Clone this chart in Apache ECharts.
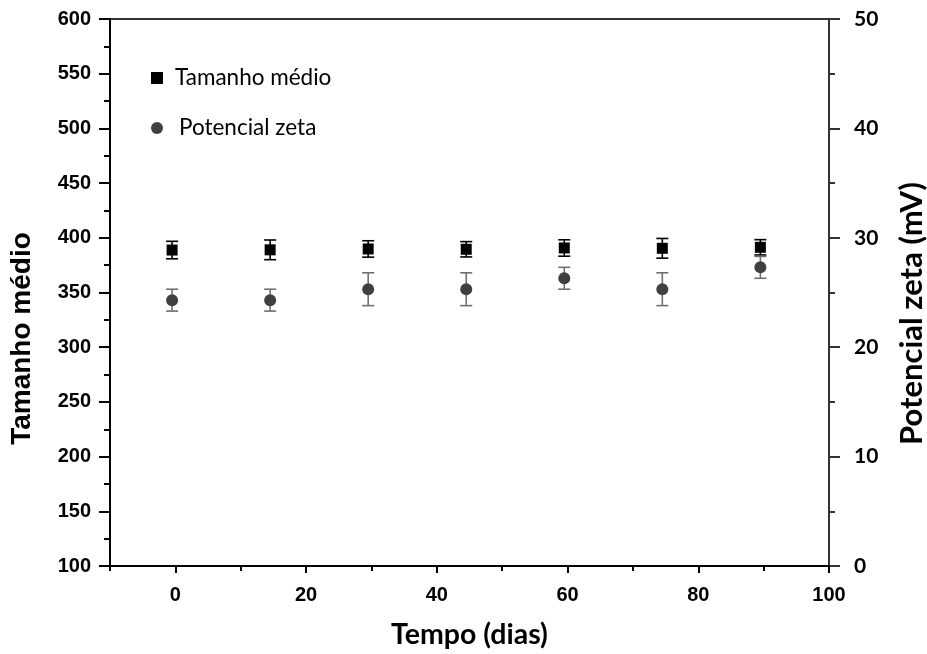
<!DOCTYPE html>
<html>
<head>
<meta charset="utf-8">
<script src="https://cdn.jsdelivr.net/npm/echarts@6/dist/echarts.min.js"></script>
<style>
html,body{margin:0;padding:0;background:#fff;}
#chart{width:927px;height:654px;}
</style>
</head>
<body>
<div id="chart"></div>
<script>
// Data
const days = [-0.5, 14.5, 29.5, 44.5, 59.5, 74.5, 89.5];
const sizeMean = [388.8, 389, 389.8, 389.5, 390.7, 390.4, 391.3];
const sizeErr = [8, 9, 7.5, 7, 7.5, 9, 7];
const zetaMean = [24.3, 24.3, 25.3, 25.3, 26.3, 25.3, 27.3];
const zetaErr = [1, 1, 1.5, 1.5, 1, 1.5, 1];
const xTickLabels = [0, 20, 40, 60, 80, 100];
const xMinorTicks = [-10, 10, 30, 50, 70, 90];
const seriesNames = ['Tamanho médio', 'Potencial zeta'];

const sizePoints = days.map((d, i) => [d, sizeMean[i]]);
const zetaPoints = days.map((d, i) => [d, zetaMean[i]]);
const sizeBars = days.map((d, i) => [d, sizeMean[i] - sizeErr[i], sizeMean[i] + sizeErr[i]]);
const zetaBars = days.map((d, i) => [d, zetaMean[i] - zetaErr[i], zetaMean[i] + zetaErr[i]]);

function errRender(color, lw) {
  return function (params, api) {
    const x = api.value(0), lo = api.value(1), hi = api.value(2);
    const p1 = api.coord([x, hi]);
    const p2 = api.coord([x, lo]);
    const w = 6;
    const st = { stroke: color, lineWidth: lw };
    return {
      type: 'group',
      children: [
        { type: 'line', shape: { x1: p1[0], y1: p1[1], x2: p2[0], y2: p2[1] }, style: st },
        { type: 'line', shape: { x1: p1[0] - w, y1: p1[1], x2: p1[0] + w, y2: p1[1] }, style: st },
        { type: 'line', shape: { x1: p2[0] - w, y1: p2[1], x2: p2[0] + w, y2: p2[1] }, style: st }
      ]
    };
  };
}

const chart = echarts.init(document.getElementById('chart'), null, { renderer: 'canvas' });
const arialBold = { fontFamily: 'Liberation Sans', fontWeight: 'bold', color: '#000' };
const calBold = { fontFamily: 'Lato', fontWeight: 'bold', color: '#000' };

chart.setOption({
  animation: false,
  backgroundColor: '#fff',
  grid: { left: 110, right: 98, top: 19, bottom: 88, outerBoundsMode: 'none', containLabel: false, show: true, borderColor: '#333', borderWidth: 2, backgroundColor: 'transparent' },
  legend: {
    orient: 'vertical',
    left: 146, top: 60,
    padding: 5,
    itemWidth: 12, itemHeight: 12,
    itemGap: 24,
    textStyle: { fontFamily: 'Lato', fontSize: 22.5, color: '#000', lineHeight: 26 },
    data: [
      { name: seriesNames[0], icon: 'rect', textStyle: { padding: [0, 0, 0, 7] } },
      { name: seriesNames[1], icon: 'circle', textStyle: { padding: [0, 0, 0, 11] } }
    ]
  },
  xAxis: [
    {
      type: 'value', min: -10, max: 100,
      name: 'Tempo (dias)', nameLocation: 'middle', nameGap: 54,
      nameTextStyle: Object.assign({ fontSize: 28.5 }, calBold),
      axisLine: { show: true, onZero: false, lineStyle: { color: '#000', width: 2 } },
      axisTick: { show: true, inside: false, length: 7, customValues: xTickLabels, lineStyle: { color: '#000', width: 2 } },
      axisLabel: Object.assign({ fontSize: 20, margin: 19, customValues: xTickLabels }, arialBold),
      splitLine: { show: false }
    },
    {
      type: 'value', min: -10, max: 100, position: 'bottom',
      axisLine: { show: false },
      axisTick: { show: true, inside: false, length: 5, customValues: xMinorTicks, lineStyle: { color: '#000', width: 2 } },
      axisLabel: { show: false },
      splitLine: { show: false }
    }
  ],
  yAxis: [
    {
      type: 'value', min: 100, max: 600, interval: 50, position: 'left',
      name: 'Tamanho médio', nameLocation: 'middle', nameGap: 74, nameRotate: 90,
      nameTextStyle: Object.assign({ fontSize: 28, padding: [0, 92, 0, 0] }, arialBold),
      axisLine: { show: true, onZero: false, lineStyle: { color: '#000', width: 2 } },
      axisTick: { show: true, inside: false, length: 11, lineStyle: { color: '#000', width: 2 } },
      minorTick: { show: true, splitNumber: 2, length: 6, lineStyle: { color: '#000', width: 2 } },
      axisLabel: Object.assign({ fontSize: 20, margin: 19 }, arialBold),
      splitLine: { show: false }
    },
    {
      type: 'value', min: 0, max: 50, interval: 10, position: 'right',
      name: 'Potencial zeta (mV)', nameLocation: 'middle', nameGap: 67, nameRotate: 90,
      nameTextStyle: Object.assign({ fontSize: 31, padding: [0, 42, 0, 0] }, calBold),
      axisLine: { show: true, onZero: false, lineStyle: { color: '#333', width: 2 } },
      axisTick: { show: true, inside: false, length: 11, lineStyle: { color: '#333', width: 2 } },
      minorTick: { show: true, splitNumber: 2, length: 6, lineStyle: { color: '#333', width: 2 } },
      axisLabel: Object.assign({ fontSize: 21, margin: 25 }, calBold),
      splitLine: { show: false }
    }
  ],
  series: [
    {
      name: 'errSize', type: 'custom', xAxisIndex: 0, yAxisIndex: 0,
      renderItem: errRender('#000', 1.6), data: sizeBars, z: 2, silent: true
    },
    {
      name: 'errZeta', type: 'custom', xAxisIndex: 0, yAxisIndex: 1,
      renderItem: errRender('#707070', 1.6), data: zetaBars, z: 2, silent: true
    },
    {
      name: seriesNames[0], type: 'scatter', xAxisIndex: 0, yAxisIndex: 0,
      symbol: 'rect', symbolSize: 11, itemStyle: { color: '#000', opacity: 1 },
      data: sizePoints, z: 3
    },
    {
      name: seriesNames[1], type: 'scatter', xAxisIndex: 0, yAxisIndex: 1,
      symbol: 'circle', symbolSize: 12, itemStyle: { color: '#404040', opacity: 1 },
      data: zetaPoints, z: 3
    }
  ]
});
</script>
</body>
</html>
